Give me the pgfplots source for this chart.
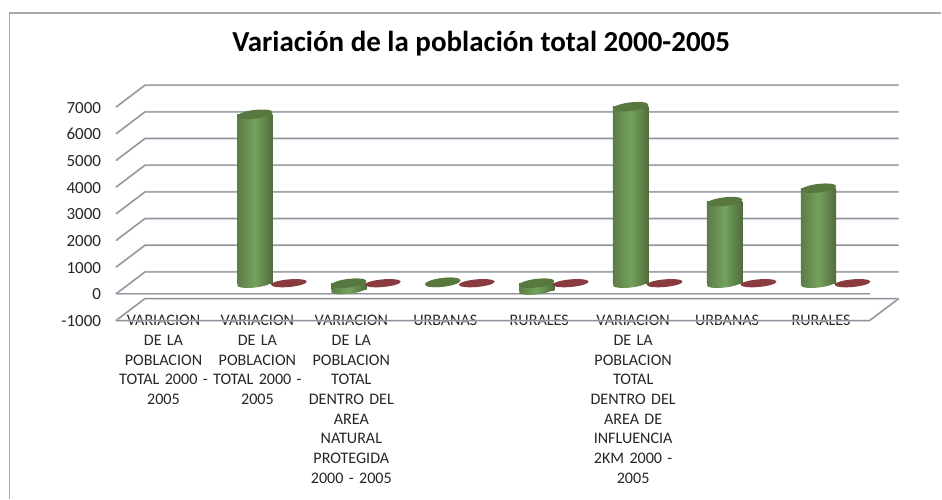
\documentclass[border=0pt]{standalone}
\usepackage{fontspec}
\setmainfont{Carlito}
\usepackage{pgfplots}
\usepackage{pgfplotstable}
\pgfplotsset{compat=1.18}
\definecolor{gridc}{HTML}{8F939C}
\definecolor{gridl}{HTML}{C9CBD1}
\definecolor{gd}{HTML}{5C7C46}
\definecolor{gr}{HTML}{506C3B}
\definecolor{gm}{HTML}{74A25E}
\definecolor{gt}{HTML}{587840}
\definecolor{redc}{HTML}{8A3B40}
\pgfdeclarehorizontalshading{cylshade}{100bp}{color(0bp)=(gd); color(25bp)=(gd); color(50bp)=(gm); color(75bp)=(gr); color(100bp)=(gr)}
\pgfdeclareplotmark{cylbase}{\pgfpathellipse{\pgfpointorigin}{\pgfpoint{17.7pt}{2.1pt}}{\pgfpoint{-0.5pt}{4.3pt}}\pgfshadepath{cylshade}{0}\pgfusepath{discard}}
\pgfdeclareplotmark{cyltop}{\pgfsetfillcolor{gt}\pgfpathellipse{\pgfpointorigin}{\pgfpoint{17.7pt}{2.1pt}}{\pgfpoint{-0.5pt}{4.3pt}}\pgfusepath{fill}}
\pgfdeclareplotmark{redcap}{\pgfsetfillcolor{redc}\pgfpathellipse{\pgfpointorigin}{\pgfpoint{17.9pt}{1.6pt}}{\pgfpoint{-0.3pt}{3.8pt}}\pgfusepath{fill}}
\pgfplotstableread{
x y
1 0
2 -240
3 30
4 -260
5 0
6 0
7 0
}\greenbase
\pgfplotstableread{
x y
1 6330
2 0
3 30
4 0
5 6614
6 3056
7 3558
}\greentop
\pgfplotstableread{
x y
1 0
2 0
3 0
4 0
5 0
6 0
7 0
}\redvals
\pgfplotsset{gl/.style={draw=gridc,line width=1.1pt,forget plot},
 gs/.style={draw=gridl,line width=2pt,forget plot},
 cyl/.style={ybar,bar width=35.4pt,bar shift=0pt,draw=none,left color=gd,right color=gr,middle color=gm,forget plot}}
\newcommand{\gridrow}[2]{%
 \addplot[gs] coordinates {(-0.479,#1) (-0.170,#2) (7.854,#2)};
 \addplot[gl] coordinates {(-0.479,#1) (-0.170,#2) (7.854,#2)};
}
\begin{document}
\begin{tikzpicture}
\begin{axis}[
  width=942pt,height=499pt,scale only axis,
  xmin=-1.71277,xmax=8.30851,ymin=-8078.6,ymax=10610.5,
  clip=false,
  scaled y ticks=false,
  axis line style={draw=none},
  major tick length=0pt,
  xtick={0,...,7},
  xticklabels={
   {VARIACION\\DE LA\\POBLACION\\TOTAL 2000 -\\2005},
   {VARIACION\\DE LA\\POBLACION\\TOTAL 2000 -\\2005},
   {VARIACION\\DE LA\\POBLACION\\TOTAL\\DENTRO DEL\\AREA\\NATURAL\\PROTEGIDA\\2000 - 2005},
   {URBANAS},
   {RURALES},
   {VARIACION\\DE LA\\POBLACION\\TOTAL\\DENTRO DEL\\AREA DE\\INFLUENCIA\\2KM 2000 -\\2005},
   {URBANAS},
   {RURALES}},
  xticklabel style={anchor=north,xshift=2.5pt,yshift=187pt,align=center,text width=92pt,
    font=\fontsize{16.1}{19.7}\selectfont,text=black!85},
  ytick={-1401,-401,599,1599,2599,3599,4599,5599,6599},
  yticklabels={-1000,0,1000,2000,3000,4000,5000,6000,7000},
  yticklabel style={anchor=east,xshift=104.5pt,yshift=-0.5pt,font=\fontsize{17}{18}\selectfont,text=black!85},
  title={\bfseries Variación de la población total 2000-2005},
  title style={at={(0.511,0.9)},anchor=center,font=\fontsize{29}{32}\selectfont,text=black},
]
% outer frame
\addplot[draw=gridc!80,line width=1.2pt,forget plot] coordinates {(-1.6117,-8078.6) (-1.6117,10123) (8.30851,10123)};
% back wall and side wall lines
\gridrow{-1401}{-577}
\gridrow{-401}{423}
\gridrow{599}{1423}
\gridrow{1599}{2423}
\gridrow{2599}{3423}
\gridrow{3599}{4423}
\gridrow{4599}{5423}
\gridrow{5599}{6423}
\gridrow{6599}{7423}
% front edges of zero plane and floor
\addplot[gs] coordinates {(-0.479,-401) (7.543,-401)};
\addplot[gl] coordinates {(-0.479,-401) (7.543,-401)};
\addplot[gs] coordinates {(-0.479,-1401) (7.543,-1401) (7.854,-577)};
\addplot[gl] coordinates {(-0.479,-1401) (7.543,-1401) (7.854,-577)};
% series
\addplot[only marks,mark=redcap,mark options={xshift=34pt}] table[x=x,y=y] {\redvals};
\addplot[only marks,mark=cylbase] table[x=x,y=y] {\greenbase};
\addplot[cyl] coordinates {(1,6330)};
\addplot[cyl] coordinates {(2,-240)};
\addplot[cyl] coordinates {(4,-260)};
\addplot[cyl] coordinates {(5,6614)};
\addplot[cyl] coordinates {(6,3056)};
\addplot[cyl] coordinates {(7,3558)};
\addplot[only marks,mark=cyltop] table[x=x,y=y] {\greentop};
\end{axis}
\end{tikzpicture}
\end{document}
